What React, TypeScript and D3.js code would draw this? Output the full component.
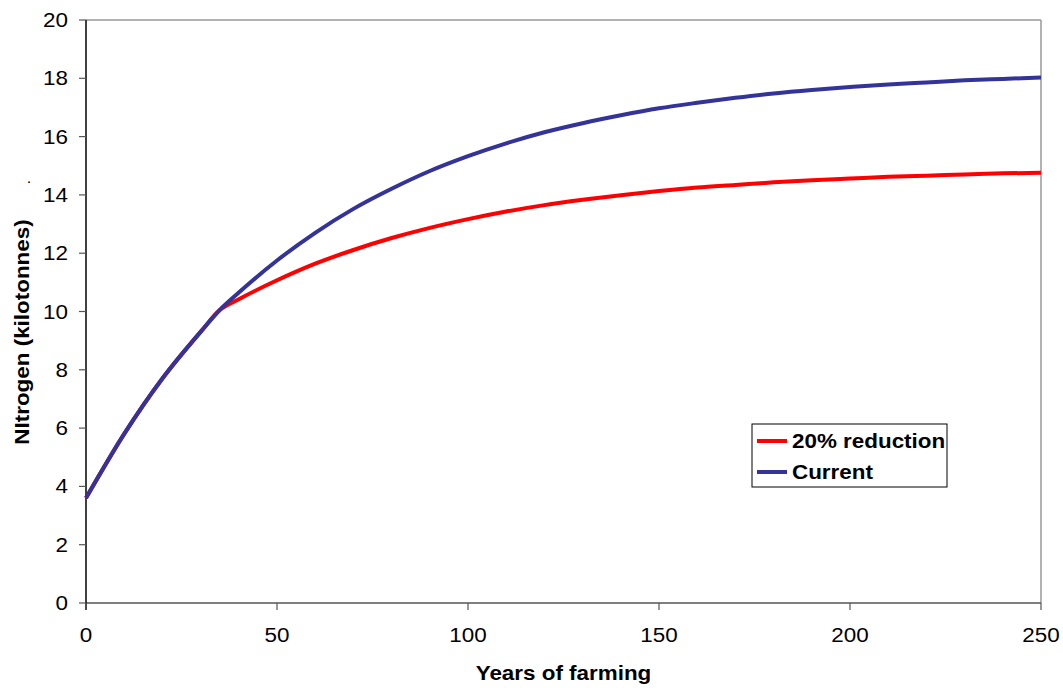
import React from "react";
import * as d3 from "d3";

const years = [0, 10, 20, 30, 35, 40, 50, 60, 70, 80, 90, 100, 110, 120, 130, 140, 150, 160, 170, 180, 190, 200, 210, 220, 230, 240, 250];
const currentValues = [3.6, 5.8, 7.7, 9.3, 10.05, 10.65, 11.75, 12.7, 13.52, 14.21, 14.82, 15.33, 15.77, 16.15, 16.46, 16.73, 16.97, 17.16, 17.33, 17.48, 17.6, 17.7, 17.79, 17.86, 17.93, 17.98, 18.03];
const reductionValues = [3.6, 5.8, 7.7, 9.3, 10.05, 10.42, 11.07, 11.64, 12.11, 12.52, 12.87, 13.17, 13.43, 13.65, 13.83, 13.99, 14.13, 14.25, 14.34, 14.43, 14.5, 14.56, 14.62, 14.66, 14.7, 14.74, 14.76];
const xTicks = [0, 50, 100, 150, 200, 250];
const yTicks = [0, 2, 4, 6, 8, 10, 12, 14, 16, 18, 20];
const seriesNames = ["20% reduction", "Current"];
const seriesColors = ["#FF0000", "#333399"];

const FONT = "'Liberation Sans', Arial, sans-serif";
const SX = 1.15;

function T(props: { x: number; y: number; rot?: number; anchor?: string; size?: number; bold?: boolean; dy?: string; children: React.ReactNode }) {
  const { x, y, rot = 0, anchor = "start", size = 19.5, bold = false, dy, children } = props;
  return (
    <text
      transform={`translate(${x},${y}) rotate(${rot}) scale(${SX},1)`}
      textAnchor={anchor}
      dy={dy}
      fontFamily={FONT}
      fontSize={size}
      fontWeight={bold ? "bold" : "normal"}
      fill="#000"
    >
      {children}
    </text>
  );
}

export default function App() {
  const W = 1063, H = 688;
  const left = 86, right = 1041, top = 20, bottom = 603;
  const x = d3.scaleLinear().domain([0, 250]).range([left, right]);
  const y = d3.scaleLinear().domain([0, 20]).range([bottom, top]);
  const line = d3.line<number>().x((_, i) => x(years[i])).y((d) => y(d)).curve(d3.curveMonotoneX);
  const series = [reductionValues, currentValues];
  return (
    <svg width={W} height={H} style={{ position: "absolute", left: 0, top: 0, background: "#fff" }}>
      <rect x={0} y={0} width={W} height={H} fill="#fff" />
      <line x1={left} y1={top} x2={right} y2={top} stroke="#999" strokeWidth={1.5} />
      <line x1={right} y1={top} x2={right} y2={bottom} stroke="#999" strokeWidth={1.5} />
      <line x1={left} y1={bottom} x2={right} y2={bottom} stroke="#555" strokeWidth={1.5} />
      <line x1={left} y1={top} x2={left} y2={bottom + 7} stroke="#000" strokeWidth={1.5} />
      {yTicks.map((t) => (
        <g key={"y" + t}>
          <line x1={left - 7} x2={left} y1={y(t)} y2={y(t)} stroke="#555" strokeWidth={1.2} />
          <T x={left - 18} y={y(t)} dy="0.36em" anchor="end">{t}</T>
        </g>
      ))}
      {xTicks.map((t) => (
        <g key={"x" + t}>
          <line x1={x(t)} x2={x(t)} y1={bottom} y2={bottom + 7} stroke="#555" strokeWidth={1.2} />
          <T x={x(t)} y={642} anchor="middle">{t}</T>
        </g>
      ))}
      {series.map((s, i) => (
        <path key={"s" + i} d={line(s) || ""} fill="none" stroke={seriesColors[i]} strokeWidth={4} strokeLinejoin="round" />
      ))}
      <T x={(left + right) / 2} y={680} anchor="middle" bold>Years of farming</T>
      <T x={29} y={332} rot={-90} anchor="middle" bold>NItrogen (kilotonnes)</T>
      <T x={29} y={183} anchor="middle" size={14}>.</T>
      <rect x={752} y={424} width={195} height={63} fill="#fff" stroke="#000" strokeWidth={1} />
      {seriesNames.map((n, i) => (
        <g key={"l" + i}>
          <line x1={757} x2={787} y1={441 + i * 31} y2={441 + i * 31} stroke={seriesColors[i]} strokeWidth={4} />
          <T x={792} y={441 + i * 31} dy="0.36em" bold>{n}</T>
        </g>
      ))}
    </svg>
  );
}
